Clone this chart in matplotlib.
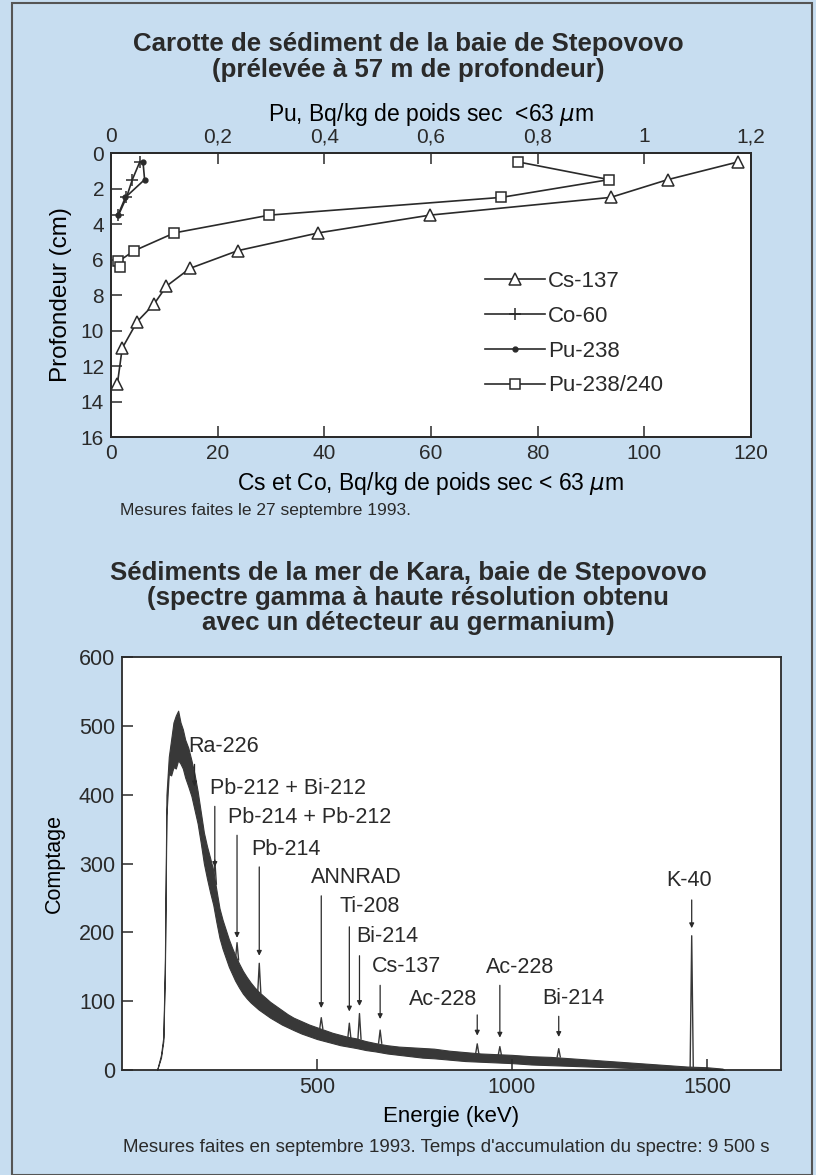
import matplotlib
matplotlib.use('Agg')
import matplotlib.pyplot as plt
from matplotlib import font_manager
from matplotlib.lines import Line2D
from matplotlib.patches import Rectangle


# --- sediment core (top chart) ---
depth_cs = [0.5, 1.5, 2.5, 3.5, 4.5, 5.5, 6.5, 7.5, 8.5, 9.5, 11, 13]
cs137 = [117.6, 104.4, 93.7, 59.8, 38.9, 23.8, 14.8, 10.4, 8.1, 4.9, 2.1, 1.2]

depth_co = [0.5, 1.5, 2.5, 3.5]
co60 = [5.4, 4.0, 2.9, 1.4]

depth_pu238 = [0.5, 1.5, 2.5, 3.5]
pu238 = [0.06, 0.063, 0.027, 0.013]

depth_pu240 = [0.5, 1.5, 2.5, 3.5, 4.5, 5.5, 6.1, 6.4]
pu240 = [0.763, 0.934, 0.732, 0.297, 0.119, 0.044, 0.014, 0.016]

cs_ticks = [0, 20, 40, 60, 80, 100, 120]
pu_ticks = [0, 0.2, 0.4, 0.6, 0.8, 1.0, 1.2]
pu_tick_labels = ['0', '0,2', '0,4', '0,6', '0,8', '1', '1,2']
depth_ticks = [0, 2, 4, 6, 8, 10, 12, 14, 16]

# --- gamma spectrum (bottom chart), noise band ---
spec_energy = [90, 100, 106, 110, 114, 120, 126, 132, 138, 144, 150, 156, 162,
               170, 178, 186, 194, 202, 210, 218, 226, 234, 242, 250, 258, 266,
               274, 282, 290, 300, 310, 320, 330, 340, 350, 360, 370, 380, 395,
               410, 425, 440, 460, 480, 500, 520, 540, 560, 580, 600, 625, 650,
               680, 710, 740, 770, 800, 840, 880, 920, 960, 1000, 1050, 1100,
               1150, 1200, 1250, 1300, 1350, 1400, 1450, 1500, 1540, 1545]
spec_low = [0, 18, 42, 140, 370, 430, 428, 440, 438, 450, 445, 438, 425,
            412, 398, 378, 358, 330, 300, 278, 258, 240, 215, 192, 176, 163,
            150, 140, 130, 120, 111, 104, 98, 93, 88, 84, 80, 76, 71,
            66, 62, 58, 53, 49, 45, 42, 39, 36, 34, 32, 29, 27,
            24, 22, 20, 18, 17, 15, 13, 12, 11, 10, 8, 7,
            6, 5, 4, 3, 2, 1, 1, 0, 0, 0]
spec_high = [0, 22, 48, 160, 400, 455, 480, 505, 515, 522, 505, 495, 480,
             468, 450, 430, 405, 375, 345, 325, 308, 290, 262, 235, 218, 204,
             190, 178, 167, 155, 144, 135, 127, 120, 114, 109, 104, 99, 93,
             87, 81, 76, 71, 66, 62, 58, 54, 51, 48, 46, 42, 39,
             36, 34, 33, 32, 31, 28, 26, 24, 23, 22, 20, 19,
             17, 15, 13, 11, 9, 7, 5, 4, 2, 0]

peak_energy = [238, 295, 352, 511, 583, 609, 662, 911, 969, 1120, 1461]
peak_top = [305, 185, 155, 76, 68, 82, 58, 38, 34, 31, 195]
peak_base = [270, 160, 112, 60, 46, 45, 39, 24, 22, 19, 5]

# label, text x (keV), text y (counts), arrow energy, arrow start, arrow tip
line_labels = [
    ('Ra-226', 169, 470, 186, 444, 412),
    ('Pb-212 + Bi-212', 226, 409, 238, 383, 295),
    ('Pb-214 + Pb-212', 272, 367, 295, 341, 192),
    ('Pb-214', 332, 321, 352, 295, 166),
    ('ANNRAD', 485, 280, 511, 253, 90),
    ('Ti-208', 557, 237, 583, 208, 85),
    ('Bi-214', 600, 194, 609, 166, 93),
    ('Cs-137', 641, 150, 662, 123, 74),
    ('Ac-228', 735, 102, 911, 80, 50),
    ('Ac-228', 934, 149, 969, 123, 47),
    ('Bi-214', 1078, 104, 1120, 78, 48),
    ('K-40', 1397, 275, 1461, 247, 206),
]
energy_ticks = [500, 1000, 1500]
count_ticks = [0, 100, 200, 300, 400, 500, 600]

W, H = 816, 1175
BG = '#c7ddf0'
INK = '#2a2a2a'
SPEC = '#383838'

available = {f.name for f in font_manager.fontManager.ttflist}
NARROW = 'Liberation Sans Narrow' if 'Liberation Sans Narrow' in available else 'Liberation Sans'
plt.rcParams['font.family'] = [NARROW, 'DejaVu Sans']
plt.rcParams['mathtext.fontset'] = 'dejavusans'
plt.rcParams['text.color'] = INK
plt.rcParams['axes.edgecolor'] = INK
plt.rcParams['xtick.color'] = INK
plt.rcParams['ytick.color'] = INK


def px_box(left, top, right, bottom):
    return [left / W, 1 - bottom / H, (right - left) / W, (bottom - top) / H]


def style_ticks(ax, size=15):
    ax.tick_params(direction='in', length=8, width=1.1, labelsize=size, pad=5)
    for s in ax.spines.values():
        s.set_linewidth(1.3)


fig = plt.figure(figsize=(W / 100, H / 100), dpi=100, facecolor=BG)
fig.patches.append(Rectangle((12 / W, 0), 800 / W, 1 - 3 / H, transform=fig.transFigure,
                             fill=False, edgecolor='#555555', lw=1.5))

# ---------------- top chart ----------------
title_font = dict(family=['Liberation Sans', 'DejaVu Sans'], weight='bold', size=18.6,
                  ha='center', va='center')
fig.text(408 / W, 1 - 44 / H, 'Carotte de sédiment de la baie de Stepovovo', **title_font)
fig.text(408 / W, 1 - 70 / H, '(prélevée à 57 m de profondeur)', **title_font)

ax = fig.add_axes(px_box(111, 153, 751, 437))
ax.set_facecolor('white')
ax.plot(cs137, depth_cs, color=INK, lw=1.2, marker='^', ms=8, mfc='white', mec=INK, mew=1.1)
ax.plot(co60, depth_co, color=INK, lw=1.2, marker='+', ms=9, mew=1.1)
ax.set_xlim(0, 120)
ax.set_ylim(16, 0)
ax.set_xticks(cs_ticks)
ax.set_yticks(depth_ticks)
ax.set_xlabel('Cs et Co, Bq/kg de poids sec < 63 $\\mu$m', fontsize=16.5, labelpad=5)
ax.set_ylabel('Profondeur (cm)', fontsize=17.5, labelpad=6)
style_ticks(ax)

ax2 = ax.twiny()
ax2.plot(pu238, depth_pu238, color=INK, lw=1.2, marker='o', ms=3.5, mfc=INK, mec=INK)
ax2.plot(pu240, depth_pu240, color=INK, lw=1.2, marker='s', ms=7.5, mfc='white', mec=INK, mew=1.1)
ax2.set_xlim(0, 1.2)
ax2.set_xticks(pu_ticks)
ax2.set_xticklabels(pu_tick_labels)
ax2.set_xlabel('Pu, Bq/kg de poids sec  <63 $\\mu$m', fontsize=16.5, labelpad=4)
style_ticks(ax2)

handles = [
    Line2D([], [], color=INK, lw=1.2, marker='^', ms=8, mfc='white', mec=INK, mew=1.1),
    Line2D([], [], color=INK, lw=1.2, marker='+', ms=9, mew=1.1),
    Line2D([], [], color=INK, lw=1.2, marker='o', ms=3.5, mfc=INK),
    Line2D([], [], color=INK, lw=1.2, marker='s', ms=7.5, mfc='white', mec=INK, mew=1.1),
]
ax.legend(handles, ['Cs-137', 'Co-60', 'Pu-238', 'Pu-238/240'], loc='upper left',
          bbox_to_anchor=(0.553, 0.655), frameon=False, fontsize=16, numpoints=1,
          handlelength=2.7, handletextpad=0.15, labelspacing=0.62)

fig.text(120 / W, 1 - 511 / H, 'Mesures faites le 27 septembre 1993.',
         family=['Liberation Sans', 'DejaVu Sans'], fontsize=12.5, ha='left', va='center')

# ---------------- bottom chart ----------------
for i, line in enumerate(['Sédiments de la mer de Kara, baie de Stepovovo',
                          '(spectre gamma à haute résolution obtenu',
                          'avec un détecteur au germanium)']):
    fig.text(408 / W, 1 - (573 + 25 * i) / H, line, **title_font)

bx = fig.add_axes(px_box(122, 657, 781, 1070))
bx.set_facecolor('white')
band = bx.fill_between(spec_energy, spec_low, spec_high, color=SPEC, lw=0.8, edgecolor=SPEC)
# rough edge so the band reads like a noisy count trace
band.set_sketch_params(scale=4.0, length=1.2, randomness=2.0)
for e, top, base in zip(peak_energy, peak_top, peak_base):
    bx.plot([e - 4, e, e + 4], [base, top, base], color=SPEC, lw=1.0)

for name, tx, ty, e, y0, y1 in line_labels:
    bx.text(tx, ty, name, fontsize=15.5, ha='left', va='center')
    bx.annotate('', xy=(e, y1), xytext=(e, y0),
                arrowprops=dict(arrowstyle='-|>', color=INK, lw=0.9,
                                mutation_scale=7, shrinkA=0, shrinkB=0))

bx.set_xlim(0, 1690)
bx.set_ylim(0, 600)
bx.set_xticks(energy_ticks)
bx.set_yticks(count_ticks)
bx.set_xlabel('Energie (keV)', fontsize=16, labelpad=6)
bx.set_ylabel('Comptage', fontsize=15.5, labelpad=10)
style_ticks(bx, 15.5)

fig.text(123 / W, 1 - 1148 / H,
         "Mesures faites en septembre 1993. Temps d'accumulation du spectre: 9 500 s",
         fontsize=13.5, ha='left', va='center')

fig.savefig('out.png', dpi=100, facecolor=BG)
